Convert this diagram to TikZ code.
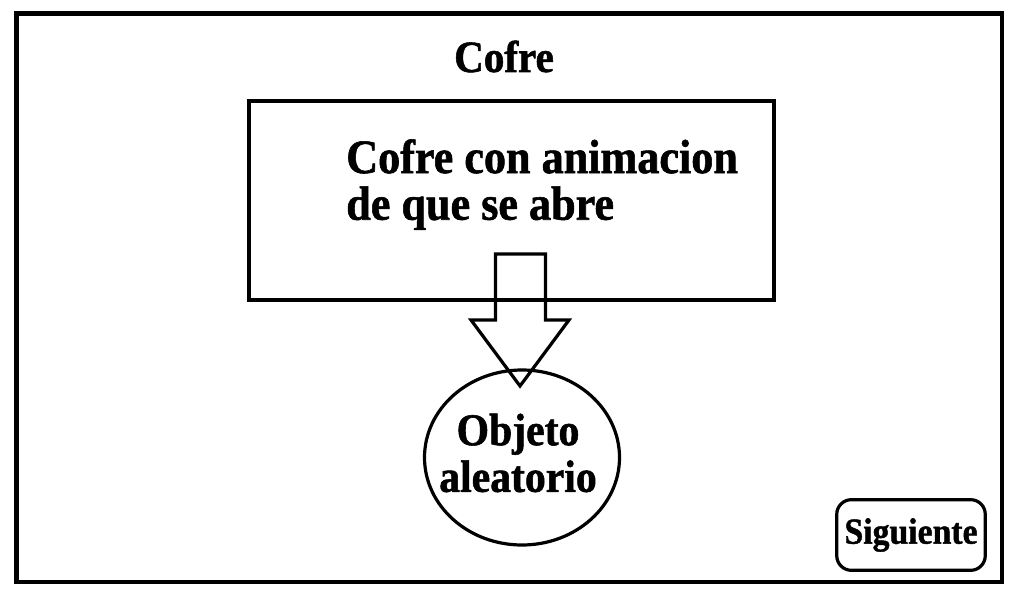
\documentclass[tikz,border=0pt]{standalone}
\usepackage{fontspec}
\setmainfont{Liberation Serif}[BoldFeatures={FakeBold=1.2, FakeStretch=0.92}]
\usetikzlibrary{positioning, shapes.geometric}

\begin{document}
\begin{tikzpicture}[x=0.75pt, y=-0.75pt, line join=miter,
    texto/.style={font=\bfseries, inner sep=0pt},
    borde/.style={draw, line width=2.4pt}]
    \useasboundingbox (0,0) rectangle (1019,598);
    % Frame
    \draw[line width=3.2pt] (16.5,13.5) rectangle (1002,582);
    \node[texto, font=\bfseries\fontsize{33.5}{33.5}\selectfont, anchor=base] (titulo) at (504,72) {Cofre};

    % Chest box and its text
    \node[borde, line width=3pt, minimum width=393.4pt, minimum height=148.9pt] (caja) at (511.75,200.75) {};
    \node[texto, font=\bfseries\fontsize{36}{35}\selectfont, align=left, anchor=north west] (animacion) at (346,139) {Cofre con animacion\\de que se abre};

    % Block arrow
    \draw[line width=2.4pt] (495.5,254) -- (545.5,254) -- (545.5,320) -- (569,320) -- (520,386) -- (471,320) -- (495.5,320) -- cycle;

    % Random item
    \node[borde, ellipse, minimum width=146.25pt, minimum height=131.25pt] (objeto) at (522,457.5) {};
    \node[texto, font=\bfseries\fontsize{34}{35}\selectfont, align=center] (objtexto) at (518,453) {Objeto\\aleatorio};

    % Next button
    \node[borde, rounded corners=11pt, minimum width=111.4pt, minimum height=53pt, font=\bfseries\fontsize{27.5}{27.5}\selectfont] (siguiente) at (911,535) {Siguiente};
\end{tikzpicture}
\end{document}
